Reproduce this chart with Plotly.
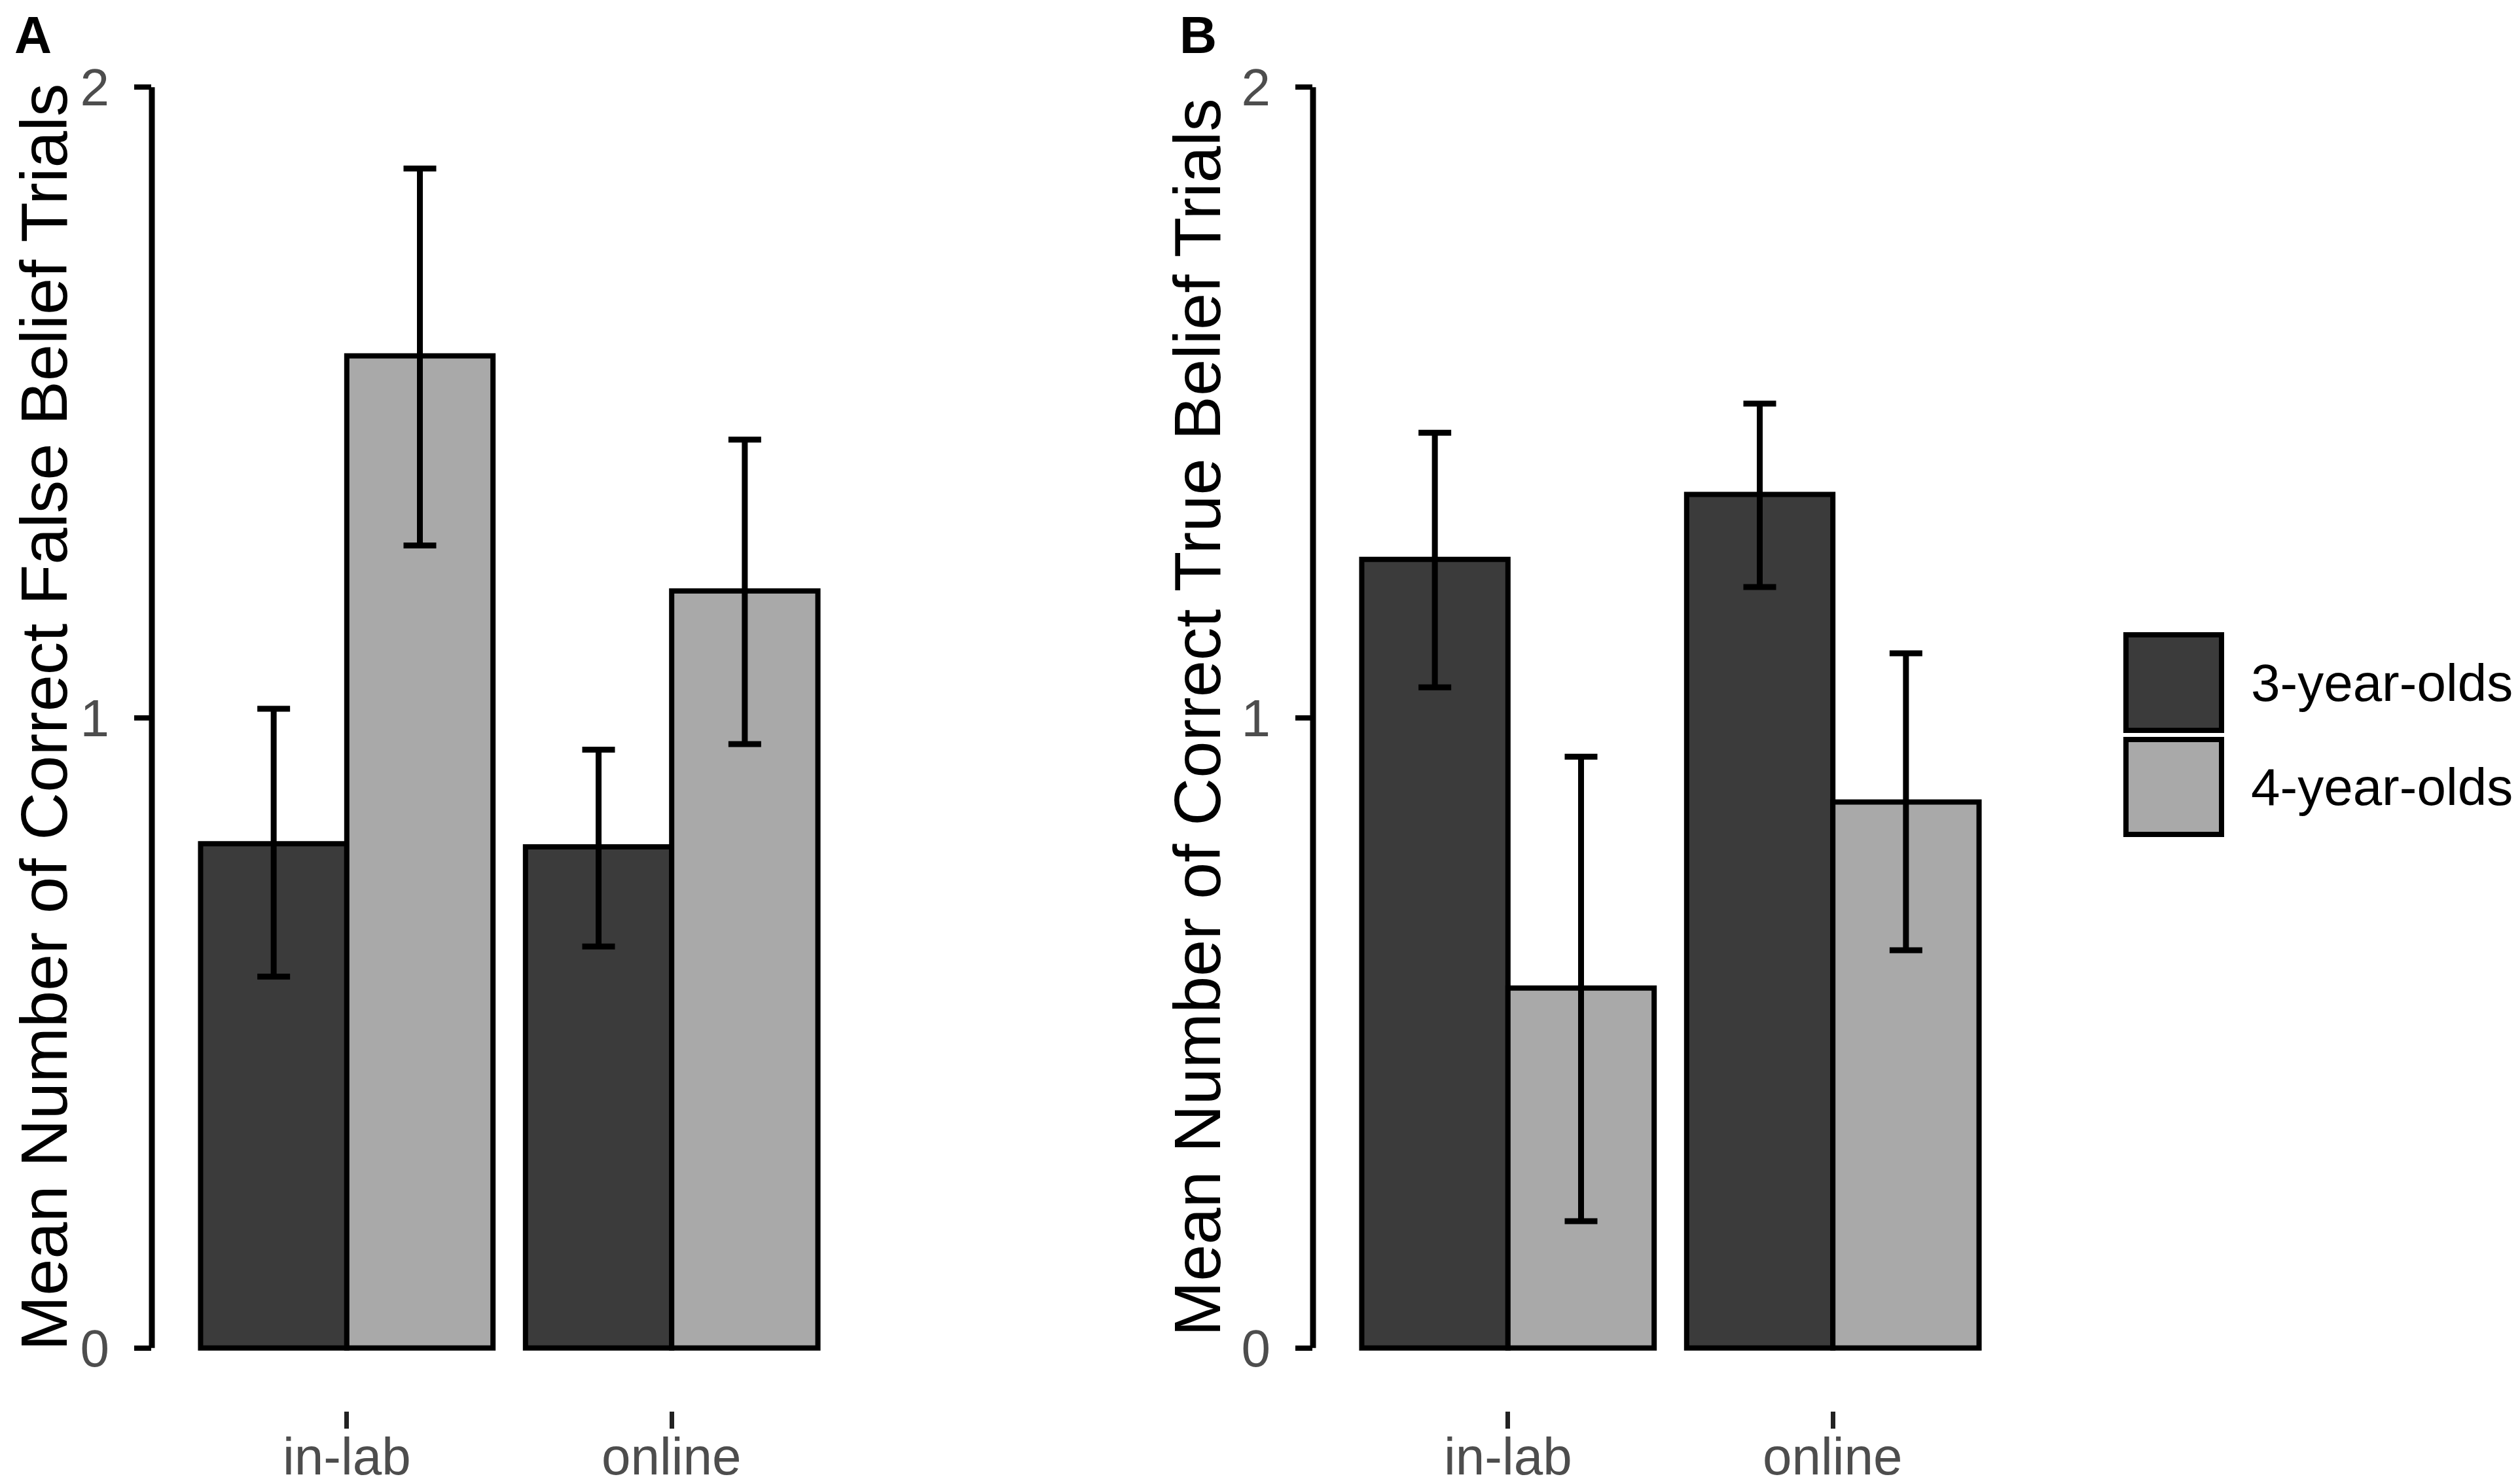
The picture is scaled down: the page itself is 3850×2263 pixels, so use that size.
import plotly.graph_objects as go

# ---------------- data ----------------
settings = ["in-lab", "online"]
groups = ["3-year-olds", "4-year-olds"]

# Panel A: false belief trials
fb_mean_3 = [0.80, 0.795]
fb_low_3 = [0.589, 0.637]
fb_high_3 = [1.014, 0.949]
fb_mean_4 = [1.574, 1.201]
fb_low_4 = [1.273, 0.958]
fb_high_4 = [1.871, 1.441]

# Panel B: true belief trials
tb_mean_3 = [1.251, 1.354]
tb_low_3 = [1.048, 1.207]
tb_high_3 = [1.452, 1.498]
tb_mean_4 = [0.571, 0.866]
tb_low_4 = [0.201, 0.631]
tb_high_4 = [0.938, 1.102]

y_ticks = [0, 1, 2]
y_tick_labels = ["0", "1", "2"]

panel_titles = ["Mean Number of Correct False Belief Trials",
                "Mean Number of Correct True Belief Trials"]
panel_letters = ["A", "B"]

# ---------------- style ----------------
W, H = 3850, 2263
FONT = "Liberation Sans, Arial, Helvetica, sans-serif"
DARK = "#3b3b3b"
LIGHT = "#a9a9a9"
TICKGREY = "#4d4d4d"
fills = [DARK, LIGHT]


def px_x(p):
    return p / W


def px_y(p):
    return 1 - p / H


fig = go.Figure()

panels = [
    ("x", "y", [(fb_mean_3, fb_low_3, fb_high_3), (fb_mean_4, fb_low_4, fb_high_4)]),
    ("x2", "y2", [(tb_mean_3, tb_low_3, tb_high_3), (tb_mean_4, tb_low_4, tb_high_4)]),
]

for xa, ya, series in panels:
    for gi, (m, lo, hi) in enumerate(series):
        fig.add_trace(go.Bar(
            x=settings, y=m, name=groups[gi], xaxis=xa, yaxis=ya,
            offsetgroup=str(gi),
            marker=dict(color=fills[gi], line=dict(color="black", width=8)),
            error_y=dict(type="data", symmetric=False,
                         array=[h - v for h, v in zip(hi, m)],
                         arrayminus=[v - l for v, l in zip(m, lo)],
                         color="black", thickness=9, width=25),
            showlegend=False,
        ))

yaxis_common = dict(
    range=[-0.1, 2.1], tickvals=y_ticks, ticktext=y_tick_labels,
    ticks="outside", ticklen=26, tickwidth=8, tickcolor="black",
    tickfont=dict(family=FONT, size=80, color=TICKGREY),
    ticklabelstandoff=22,
    showgrid=False, zeroline=False, showline=False,
    domain=[px_y(2148), px_y(29)],
)
xaxis_common = dict(
    type="category", range=[-0.6, 1.6],
    ticks="outside", ticklen=26, tickwidth=7, tickcolor="#222222",
    showticklabels=False,
    showgrid=False, zeroline=False, showline=False,
)

fig.update_layout(
    width=W, height=H,
    margin=dict(l=0, r=0, t=0, b=0),
    paper_bgcolor="white", plot_bgcolor="white",
    barmode="group", bargap=0.1, bargroupgap=0,
    font=dict(family=FONT),
    xaxis=dict(**xaxis_common, domain=[px_x(224), px_x(1316)], anchor="y"),
    yaxis=dict(**yaxis_common, anchor="x"),
    xaxis2=dict(**xaxis_common, domain=[px_x(1998), px_x(3090)], anchor="y2"),
    yaxis2=dict(**yaxis_common, anchor="x2"),
    showlegend=False,
)

# category labels under the x ticks
for xa in ["x", "x2"]:
    for s in settings:
        fig.add_annotation(text=s, xref=xa, yref="paper", x=s, y=0,
                           showarrow=False, xanchor="center", yanchor="bottom",
                           borderpad=0,
                           font=dict(family=FONT, size=80, color=TICKGREY))

# capped y-axis lines (0 to 2)
for xd, ya in [("x domain", "y"), ("x2 domain", "y2")]:
    fig.add_shape(type="line", xref=xd, yref=ya, x0=0, x1=0,
                  y0=y_ticks[0], y1=y_ticks[-1],
                  line=dict(color="black", width=9))

# y-axis titles
for cx, title in zip([59, 1821], panel_titles):
    fig.add_annotation(text=title, xref="paper", yref="paper",
                       x=px_x(cx), y=px_y(1088), textangle=-90,
                       showarrow=False, xanchor="center", yanchor="middle",
                       borderpad=0,
                       font=dict(family=FONT, size=101, color="black"))

# panel letters
for lx, letter in zip([13, 1793], panel_letters):
    fig.add_annotation(text="<b>%s</b>" % letter, xref="paper", yref="paper",
                       x=px_x(lx), y=1, showarrow=False,
                       xanchor="left", yanchor="top", borderpad=0,
                       font=dict(family=FONT, size=79, color="black"))

# manual legend (outer edges 958-1112 and 1118-1271)
key_boxes = [(962, 1108), (1122, 1267)]
for gi, (top, bot) in enumerate(key_boxes):
    fig.add_shape(type="rect", xref="paper", yref="paper",
                  x0=px_x(3240), x1=px_x(3386), y0=px_y(bot), y1=px_y(top),
                  fillcolor=fills[gi], line=dict(color="black", width=8))
    fig.add_annotation(text=groups[gi], xref="paper", yref="paper",
                       x=px_x(3430), y=px_y((top + bot) / 2), showarrow=False,
                       xanchor="left", yanchor="middle", borderpad=0,
                       font=dict(family=FONT, size=80, color="black"))

fig.write_html("out.html")
